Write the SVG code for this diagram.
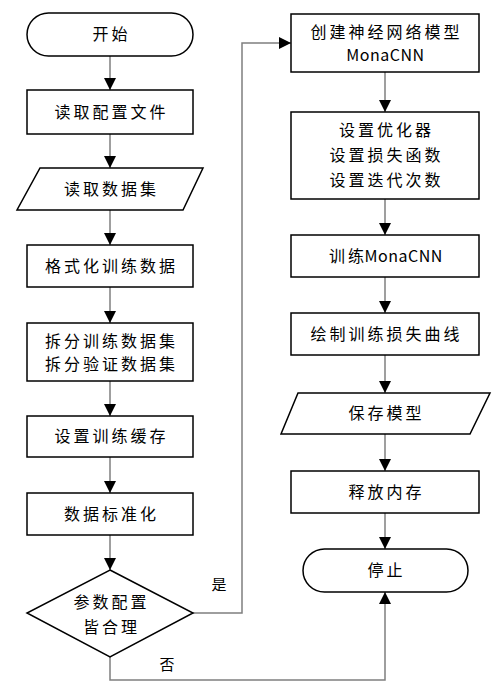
<svg xmlns="http://www.w3.org/2000/svg" width="500" height="692" viewBox="0 0 500 692">
<defs>
<marker id="arr" markerUnits="userSpaceOnUse" markerWidth="12" markerHeight="12" viewBox="0 0 12 12" refX="12" refY="6" orient="auto">
<path d="M0,0 L12,6 L0,12 Z" fill="#000"/>
</marker>
<style>
.n{fill:#fff;stroke:#000;stroke-width:1.5}
.t{font-family:"Noto Sans CJK SC","Noto Sans",sans-serif;font-size:16px;fill:#000;text-anchor:middle;letter-spacing:3px}
.la{letter-spacing:0.5px}
.c{fill:none;stroke:#7f7f7f;stroke-width:1.5;marker-end:url(#arr)}
.l{font-family:"Noto Sans CJK SC","Noto Sans",sans-serif;font-size:15px;fill:#000;text-anchor:middle}
</style>
</defs>
<rect width="500" height="692" fill="#fff"/>
<g id="connectors">
<path class="c" d="M110,56 V90"/>
<path class="c" d="M110,134 V168"/>
<path class="c" d="M110,210 V245"/>
<path class="c" d="M110,287 V323"/>
<path class="c" d="M110,381 V416"/>
<path class="c" d="M110,457 V493"/>
<path class="c" d="M110,535 V570"/>
<path class="c" d="M193,613 H242 V43 H291"/>
<path class="c" d="M110,657 V680 H385 V592"/>
<path class="c" d="M385,72 V112"/>
<path class="c" d="M385,199 V235"/>
<path class="c" d="M385,277 V313"/>
<path class="c" d="M385,355 V393"/>
<path class="c" d="M385,434 V471"/>
<path class="c" d="M385,513 V549"/>
<text class="l" x="219" y="590">是</text>
<text class="l" x="167" y="670">否</text>
</g>
<g id="start"><rect class="n" x="27" y="13" width="166" height="43" rx="21.5"/><text class="t" x="111.5" y="40">开始</text></g>
<g id="readcfg"><rect class="n" x="27" y="90" width="166" height="44"/><text class="t" x="111.5" y="118">读取配置文件</text></g>
<g id="readdata"><polygon class="n" points="40,168 203,168 183,210 17,210"/><text class="t" x="111.5" y="195">读取数据集</text></g>
<g id="format"><rect class="n" x="27" y="245" width="166" height="42"/><text class="t" x="111.5" y="272">格式化训练数据</text></g>
<g id="split"><rect class="n" x="27" y="323" width="166" height="58"/><text class="t" x="111.5" y="347">拆分训练数据集</text><text class="t" x="111.5" y="370">拆分验证数据集</text></g>
<g id="cache"><rect class="n" x="27" y="416" width="166" height="41"/><text class="t" x="111.5" y="442">设置训练缓存</text></g>
<g id="norm"><rect class="n" x="27" y="493" width="166" height="42"/><text class="t" x="111.5" y="520">数据标准化</text></g>
<g id="check"><polygon class="n" points="110,570 193,613 110,657 27,613"/><text class="t" x="111.5" y="608">参数配置</text><text class="t" x="111.5" y="633">皆合理</text></g>
<g id="create"><rect class="n" x="291" y="14" width="188" height="58"/><text class="t" x="386.5" y="38">创建神经网络模型</text><text class="t la" x="385.5" y="61">MonaCNN</text></g>
<g id="setup"><rect class="n" x="291" y="112" width="188" height="87"/><text class="t" x="386.5" y="136">设置优化器</text><text class="t" x="386.5" y="161">设置损失函数</text><text class="t" x="386.5" y="186">设置迭代次数</text></g>
<g id="train"><rect class="n" x="291" y="235" width="188" height="42"/><text class="t" x="386" y="262">训<tspan class="la">练MonaCNN</tspan></text></g>
<g id="plot"><rect class="n" x="291" y="313" width="188" height="42"/><text class="t" x="386.5" y="340">绘制训练损失曲线</text></g>
<g id="save"><polygon class="n" points="298,393 490,393 470,434 281,434"/><text class="t" x="386.5" y="419">保存模型</text></g>
<g id="free"><rect class="n" x="291" y="471" width="188" height="42"/><text class="t" x="386.5" y="498">释放内存</text></g>
<g id="stop"><rect class="n" x="303" y="549" width="165" height="43" rx="21.5"/><text class="t" x="386.5" y="576">停止</text></g>
</svg>
